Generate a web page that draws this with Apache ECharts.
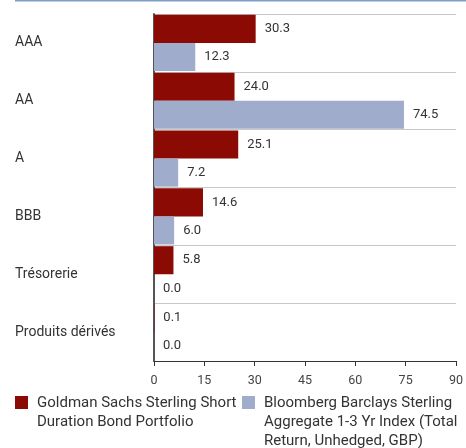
<!DOCTYPE html>
<html>
<head>
<meta charset="utf-8">
<script src="https://cdn.jsdelivr.net/npm/echarts@6/dist/echarts.min.js"></script>
<style>html,body{margin:0;padding:0;background:#fff}#c{width:466px;height:448px}</style>
</head>
<body>
<div id="c"></div>
<script>
var categories = ['AAA', 'AA', 'A', 'BBB', 'Trésorerie', 'Produits dérivés'];
var fundName = 'Goldman Sachs Sterling Short\nDuration Bond Portfolio';
var indexName = 'Bloomberg Barclays Sterling\nAggregate 1-3 Yr Index (Total\nReturn, Unhedged, GBP)';
var fundValues = [30.3, 24.0, 25.1, 14.6, 5.8, 0.1];
var indexValues = [12.3, 74.5, 7.2, 6.0, 0.0, 0.0];
var xTicks = [0, 15, 30, 45, 60, 75, 90];

var FONT = 'Roboto, "Liberation Sans", sans-serif';
var RED = '#8B0A03', BLUE = '#A0ACCB';
var chart = echarts.init(document.getElementById('c'), null, {renderer: 'canvas'});
var labelCfg = {
  show: true, position: 'right', distance: 9,
  color: '#333', fontSize: 13, fontFamily: FONT,
  formatter: function (p) { return Number(p.value).toFixed(1); }
};
function legendItem(x, color, name) {
  return [{
    type: 'rect', shape: {x: x, y: 396, width: 13, height: 13},
    style: {fill: color}
  }, {
    type: 'text', x: x + 22, y: 393.5,
    style: {text: name, fill: '#333', fontSize: 15, fontFamily: FONT,
            lineHeight: 19, verticalAlign: 'top', align: 'left'}
  }];
}
chart.setOption({
  animation: false,
  textStyle: {fontFamily: FONT},
  graphic: [{
    type: 'line', shape: {x1: 15, y1: 0.5, x2: 466, y2: 0.5},
    style: {stroke: '#7F9DC7', lineWidth: 2}
  }].concat(legendItem(15, RED, fundName), legendItem(242, BLUE, indexName)),
  grid: {left: 154, right: 5, top: 14, bottom: 87, containLabel: false},
  legend: {show: false},
  xAxis: {
    type: 'value', min: xTicks[0], max: xTicks[xTicks.length - 1], interval: 15,
    axisLine: {show: true, lineStyle: {color: '#333', width: 1}},
    axisTick: {show: true, length: 5, lineStyle: {color: '#333'}},
    axisLabel: {color: '#444', fontSize: 12.5, fontFamily: FONT, margin: 13},
    splitLine: {show: false}
  },
  yAxis: {
    type: 'category', data: categories, inverse: true,
    axisLine: {show: true, lineStyle: {color: '#555', width: 2}},
    axisTick: {show: false},
    axisLabel: {align: 'left', margin: 139, color: '#333', fontSize: 14, fontFamily: FONT},
    splitLine: {show: true, lineStyle: {color: '#c8c8c8', width: 1}}
  },
  series: [{
    name: fundName, type: 'bar', data: fundValues,
    itemStyle: {color: RED}, barGap: '0%', barCategoryGap: '3%',
    label: labelCfg
  }, {
    name: indexName, type: 'bar', data: indexValues,
    itemStyle: {color: BLUE}, barGap: '0%', barCategoryGap: '3%',
    label: labelCfg
  }]
});
</script>
</body>
</html>
